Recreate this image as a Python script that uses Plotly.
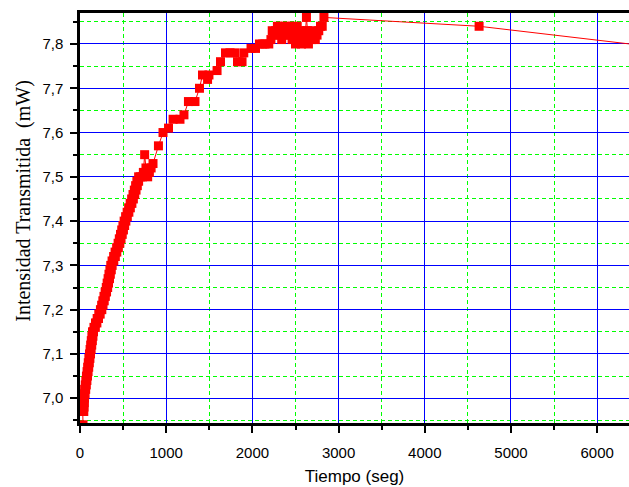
import plotly.graph_objects as go

# Transmitted intensity readings (mW) against time (s)
tiempo = [
    35,
    32, 44, 35, 47, 38, 50, 40, 52,
    47, 59, 54, 66, 61, 73, 68, 80, 75, 87,
    82, 94, 89, 101, 96, 108, 103, 115, 110, 122,
    117, 129, 124, 136, 131, 143, 138, 150, 145, 157,
    162, 178, 180, 196, 199, 215, 218, 234, 237, 253,
    251, 267, 265, 281, 278, 294, 292, 308, 305, 321,
    315, 331, 326, 342, 336, 352, 347, 363, 357, 373,
    372, 392, 390, 410, 407, 427, 425, 445, 442, 462,
    456, 476, 470, 490, 484, 504, 498, 518, 512, 532,
    529, 549, 547, 567, 564, 584, 582, 602, 599, 619,
    615, 635, 630, 650, 645, 665, 660, 680, 680, 700, 725,
    735, 750, 765, 785, 805, 825, 847, 910, 963, 1027,
    1080, 1160, 1206, 1258, 1334, 1386, 1421, 1480, 1496, 1590,
    1630, 1688, 1740, 1793, 1827, 1880, 1900, 1984, 2036, 2082,
    2120, 2146, 2190, 2215, 2230, 2250, 2270, 2290, 2300, 2330,
    2340, 2360, 2380, 2400, 2420, 2430, 2440, 2460, 2470, 2490,
    2500, 2510, 2520, 2530, 2550, 2560, 2570, 2580, 2590, 2610,
    2620, 2627, 2640, 2650, 2670, 2690, 2710, 2730, 2750, 2770,
    2790, 2810, 2830, 4630, 7690,
]
intensidad = [
    6.94,
    6.97, 6.97, 6.98, 6.98, 6.99, 6.99, 7.00, 7.00,
    7.01, 7.01, 7.02, 7.02, 7.03, 7.03, 7.04, 7.04, 7.05, 7.05,
    7.06, 7.06, 7.07, 7.07, 7.08, 7.08, 7.09, 7.09, 7.10, 7.10,
    7.11, 7.11, 7.12, 7.12, 7.13, 7.13, 7.14, 7.14, 7.15, 7.15,
    7.16, 7.16, 7.17, 7.17, 7.18, 7.18, 7.19, 7.19, 7.20, 7.20,
    7.21, 7.21, 7.22, 7.22, 7.23, 7.23, 7.24, 7.24, 7.25, 7.25,
    7.26, 7.26, 7.27, 7.27, 7.28, 7.28, 7.29, 7.29, 7.30, 7.30,
    7.31, 7.31, 7.32, 7.32, 7.33, 7.33, 7.34, 7.34, 7.35, 7.35,
    7.36, 7.36, 7.37, 7.37, 7.38, 7.38, 7.39, 7.39, 7.40, 7.40,
    7.41, 7.41, 7.42, 7.42, 7.43, 7.43, 7.44, 7.44, 7.45, 7.45,
    7.46, 7.46, 7.47, 7.47, 7.48, 7.48, 7.49, 7.49, 7.50, 7.50, 7.50,
    7.51, 7.55, 7.52, 7.50, 7.51, 7.52, 7.53, 7.57, 7.60, 7.61,
    7.63, 7.63, 7.64, 7.67, 7.67, 7.70, 7.73, 7.72, 7.73, 7.74,
    7.76, 7.78, 7.78, 7.78, 7.76, 7.76, 7.78, 7.79, 7.79, 7.80,
    7.80, 7.80, 7.80, 7.81, 7.83, 7.82, 7.83, 7.84, 7.82, 7.84,
    7.81, 7.83, 7.84, 7.82, 7.84, 7.82, 7.83, 7.81, 7.84, 7.82,
    7.80, 7.83, 7.84, 7.81, 7.83, 7.82, 7.80, 7.81, 7.82, 7.81,
    7.83, 7.86, 7.83, 7.80, 7.82, 7.81, 7.83, 7.81, 7.82, 7.83,
    7.84, 7.84, 7.86, 7.84, 7.77,
]
assert len(tiempo) == len(intensidad)

x_range = [0, 6369]
y_range = [6.944, 7.870]

ROJO = "#ff0000"
AZUL = "#0000ff"
VERDE = "#00ff00"
SANS = "Liberation Sans, Arial, sans-serif"
SERIF = "Liberation Serif, Times New Roman, serif"

fig = go.Figure(
    go.Scatter(
        x=tiempo,
        y=intensidad,
        mode="lines+markers",
        line=dict(color=ROJO, width=1),
        marker=dict(symbol="square", size=9, color=ROJO, line=dict(width=0)),
        hoverinfo="x+y",
    )
)

axis_common = dict(
    showline=True,
    linecolor="black",
    linewidth=2.5,
    ticks="outside",
    ticklen=7,
    tickwidth=2,
    tickcolor="black",
    showgrid=True,
    gridcolor=AZUL,
    gridwidth=1,
    zeroline=False,
    tickfont=dict(family=SANS, size=15, color="black"),
)

minor_common = dict(
    ticks="outside",
    ticklen=4,
    tickwidth=2,
    tickcolor="black",
    showgrid=True,
    gridcolor=VERDE,
    gridwidth=1,
    griddash="4px,3px",
)

fig.update_xaxes(
    **axis_common,
    range=x_range,
    tick0=0,
    dtick=1000,
    tickformat="d",
    mirror=True,
    ticklabelstandoff=7,
    minor=dict(dtick=500, tick0=0, **minor_common),
    title=dict(text="Tiempo (seg)", font=dict(family=SANS, size=17, color="black"), standoff=11),
)

fig.update_yaxes(
    **axis_common,
    range=y_range,
    tick0=7.0,
    dtick=0.1,
    tickformat=".1f",
    ticklabelstandoff=4,
    minor=dict(dtick=0.05, tick0=6.95, **minor_common),
)

fig.add_annotation(
    text="Intensidad Transmitida \u00a0(mW)",
    textangle=-90,
    xref="paper",
    yref="paper",
    x=-0.102,
    y=0.542,
    xanchor="center",
    yanchor="middle",
    showarrow=False,
    font=dict(family=SERIF, size=20, color="black"),
)

fig.update_layout(
    width=629,
    height=487,
    margin=dict(l=80, r=0, t=13, b=64),
    paper_bgcolor="white",
    plot_bgcolor="white",
    showlegend=False,
    separators=",.",
)

fig.write_html("out.html")
